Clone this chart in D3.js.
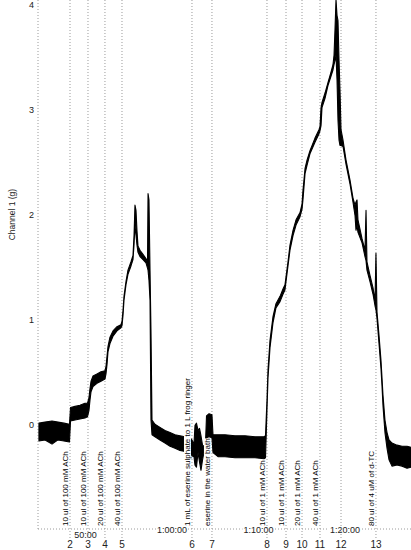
<!DOCTYPE html>
<html><head><meta charset="utf-8">
<script src="https://cdn.jsdelivr.net/npm/d3@7"></script>
<style>html,body{margin:0;padding:0;background:#fff;}svg{display:block;}</style>
</head><body>
<svg id="c" width="411" height="550"></svg>
<script>
// ---- data (time in minutes, force in grams) ----
const traceTime = [44.62,45.32,46.13,46.82,47.51,48.15,48.27,48.79,49.36,49.94,50.23,50.40,50.52,50.64,50.87,51.33,51.79,52.25,52.37,52.49,52.60,52.83,53.18,53.64,54.10,54.22,54.34,54.45,54.68,54.91,55.26,55.49,55.61,55.72,55.84,55.95,56.07,56.30,56.65,56.99,57.17,57.23,57.34,57.46,57.57,57.69,58.03,58.61,59.19,59.77,60.35,60.92,61.50,62.08,
  62.31,62.54,62.66,62.83,63.01,63.18,63.35,63.53,63.70,63.87,63.99,64.28,64.62,
  64.74,65.32,66.13,67.28,68.44,69.60,70.64,70.81,70.98,71.10,71.33,71.68,72.02,72.49,72.83,73.06,73.41,73.64,73.99,74.34,74.80,75.03,75.14,75.38,75.61,75.95,76.53,76.99,77.11,77.23,77.34,77.69,78.03,78.38,78.61,78.73,78.84,78.96,79.08,79.19,79.31,79.42,79.54,79.77,80.12,80.58,80.92,81.16,81.27,81.39,81.50,81.97,82.31,82.43,82.54,82.89,83.24,83.47,83.58,83.70,83.93,84.16,84.28,84.39,84.62,84.86,85.09,85.43,86.01,86.59,87.17,87.63];
const traceHigh = [0.01,0.02,0.03,0.02,0.01,0.00,0.16,0.17,0.18,0.20,0.20,0.25,0.34,0.41,0.46,0.48,0.50,0.51,0.55,0.65,0.74,0.83,0.89,0.93,0.95,0.98,1.09,1.22,1.36,1.47,1.55,1.61,1.80,2.09,2.04,1.85,1.70,1.66,1.62,1.58,1.55,2.20,2.14,1.47,0.90,0.04,0.00,-0.03,-0.06,-0.08,-0.10,-0.11,-0.12,-0.13,
  -0.15,-0.19,-0.01,0.01,-0.06,-0.04,-0.11,-0.20,-0.21,-0.19,0.08,0.10,0.09,
  -0.10,-0.10,-0.10,-0.11,-0.11,-0.12,-0.12,-0.11,0.23,0.52,0.80,1.03,1.15,1.22,1.29,1.33,1.55,1.71,1.85,1.95,2.02,2.10,2.23,2.44,2.52,2.61,2.73,2.81,2.84,3.02,3.07,3.16,3.26,3.36,3.43,3.52,3.76,4.05,3.90,3.85,3.47,3.19,2.81,2.71,2.52,2.33,2.16,2.09,2.12,2.14,1.95,1.77,1.66,2.04,1.55,1.42,1.30,1.18,1.63,1.07,0.85,0.61,0.44,0.28,0.04,-0.08,-0.15,-0.18,-0.20,-0.21,-0.21,-0.22];
const traceLow = [-0.16,-0.15,-0.19,-0.15,-0.16,-0.17,0.03,0.04,0.05,0.06,0.07,0.13,0.23,0.31,0.36,0.39,0.41,0.43,0.48,0.57,0.69,0.77,0.84,0.89,0.92,0.94,1.04,1.18,1.33,1.43,1.51,1.57,1.71,1.90,1.80,1.71,1.64,1.60,1.57,1.54,1.49,1.47,1.37,1.18,0.04,-0.10,-0.12,-0.15,-0.18,-0.21,-0.23,-0.25,-0.26,-0.27,
  -0.30,-0.31,-0.39,-0.41,-0.27,-0.36,-0.44,-0.34,-0.27,-0.25,-0.13,-0.12,-0.13,
  -0.27,-0.31,-0.31,-0.32,-0.32,-0.32,-0.33,-0.32,0.13,0.44,0.73,0.97,1.11,1.17,1.24,1.28,1.51,1.66,1.80,1.90,1.98,2.05,2.14,2.39,2.47,2.58,2.69,2.77,2.80,2.85,3.02,3.11,3.23,3.32,3.38,3.43,3.47,3.52,3.28,2.90,2.71,2.66,2.66,2.65,2.48,2.29,2.12,1.99,1.85,1.90,1.83,1.73,1.60,1.56,1.47,1.36,1.24,1.13,1.09,1.01,0.77,0.53,0.36,0.18,-0.08,-0.23,-0.34,-0.40,-0.39,-0.40,-0.42,-0.41];

const eventTimes = [48.21,50.29,52.25,54.22,62.31,64.62,70.98,73.18,75.03,77.11,79.54,83.58];
const eventNumbers = ["2","3","4","5","6","7","8","9","10","11","12","13"];
const eventLabels = ["10 ul of 100 mM ACh","10 ul of 100 mM ACh","20 ul of 100 mM ACh","40 ul of 100 mM ACh",
  "1 mL of eserine sulphate to 1 L frog ringer","eserine in the water bath",
  "10 ul of 1 mM ACh","10 ul of 1 mM ACh","20 ul of 1 mM ACh","40 ul of 1 mM ACh","","80 ul of 4 uM of d-TC"];

const yTicks = [0,1,2,3,4];
const timeTicks = [50,60,70,80];
const timeTickLabels = ["50:00","1:00:00","1:10:00","1:20:00"];
const yTitle = "Channel 1 (g)";

// ---- layout ----
const svg = d3.select("#c");
const x = d3.scaleLinear().domain([44.51, 87.63]).range([38, 411]);
const y = d3.scaleLinear().domain([-1, 4]).range([529, 5]);
const FONT = "'Liberation Sans', Arial, sans-serif";
const GRID = "#9a9a9a", DASH = "1,2";

svg.append("line").attr("x1",38).attr("x2",38).attr("y1",0).attr("y2",y(-1))
  .attr("stroke",GRID).attr("stroke-dasharray",DASH);
svg.append("line").attr("x1",38).attr("x2",411).attr("y1",y(-1)).attr("y2",y(-1))
  .attr("stroke",GRID).attr("stroke-dasharray",DASH);

const yAxis = d3.axisLeft(y).tickValues(yTicks).tickSize(0).tickPadding(4).tickFormat(d3.format("d"));
const gy = svg.append("g").attr("transform","translate(38,0)").call(yAxis);
gy.select(".domain").remove();
gy.selectAll("text").attr("font-family",FONT).attr("font-size",9).attr("fill","#222");

svg.append("text").attr("transform",`translate(15,${y(2)}) rotate(-90)`)
  .attr("text-anchor","middle").attr("font-family",FONT).attr("font-size",8.5).attr("fill","#222").text(yTitle);

// time axis labels with white background
timeTicks.forEach((t,i)=>{
  const g = svg.append("g").attr("transform",`translate(${x(t)},${i===0?538:533})`);
  const txt = g.append("text").attr("text-anchor","middle").attr("font-family",FONT)
    .attr("font-size",9).attr("fill","#222").text(timeTickLabels[i]);
  const bb = txt.node().getBBox();
  g.insert("rect","text").attr("x",bb.x-1).attr("y",bb.y).attr("width",bb.width+2).attr("height",bb.height).attr("fill","#fff");
});

// event lines
svg.append("g").selectAll("line").data(eventTimes).join("line")
  .attr("x1",d=>x(d)).attr("x2",d=>x(d)).attr("y1",0).attr("y2",539)
  .attr("stroke",GRID).attr("stroke-dasharray",DASH);

// event numbers
svg.append("g").selectAll("text").data(eventTimes).join("text")
  .attr("x",d=>x(d)).attr("y",548).attr("text-anchor","middle")
  .attr("font-family",FONT).attr("font-size",10).attr("fill","#222")
  .text((d,i)=>eventNumbers[i]);

// trace (envelope of the noisy recording)
const pts = traceTime.map((t,i)=>({t, hi:traceHigh[i], lo:traceLow[i]}));
const area = d3.area().x(d=>x(d.t)).y0(d=>y(d.lo)).y1(d=>y(d.hi));
svg.append("path").datum(pts).attr("d",area)
  .attr("fill","#000").attr("stroke","#000").attr("stroke-width",1.1).attr("stroke-linejoin","round");

// event annotations (rotated, white background)
const ann = svg.append("g").selectAll("g").data(eventTimes).join("g")
  .attr("transform",d=>`translate(${x(d)-2},526) rotate(-90)`);
ann.each(function(d,i){
  const g = d3.select(this);
  if(!eventLabels[i]) return;
  const txt = g.append("text").attr("font-family",FONT).attr("font-size",8).attr("fill","#000").text(eventLabels[i]);
  const bb = txt.node().getBBox();
  g.insert("rect","text").attr("x",bb.x).attr("y",bb.y+1).attr("width",bb.width).attr("height",bb.height-2).attr("fill","#fff");
});
</script>
</body></html>
